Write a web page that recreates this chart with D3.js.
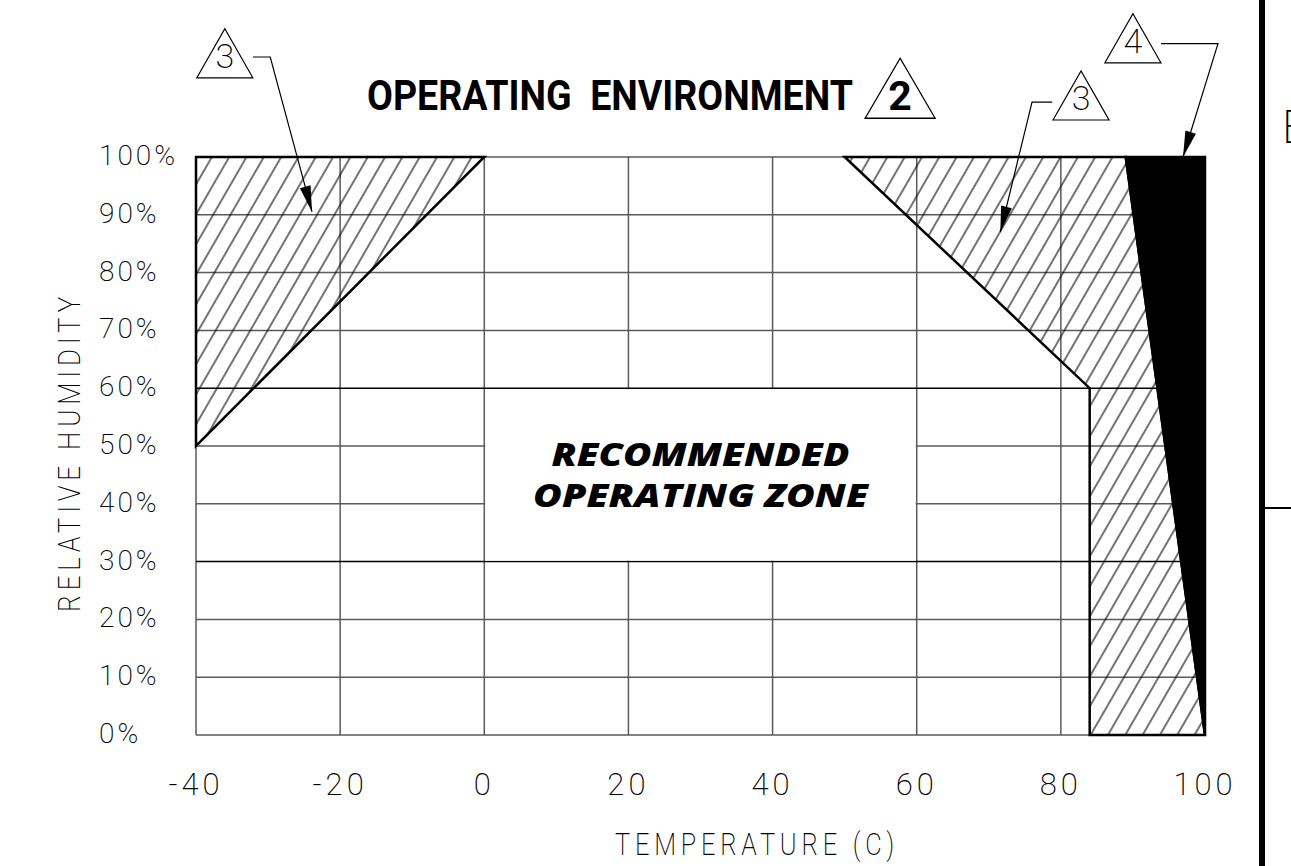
<!DOCTYPE html>
<html>
<head>
<meta charset="utf-8">
<script src="https://cdn.jsdelivr.net/npm/d3@7"></script>
<style>
body { margin: 0; background: #fff; }
svg { display: block; }
.cad { font-family: Roboto, "DejaVu Sans", sans-serif; font-weight: 200; fill: #000; }
</style>
</head>
<body>
<svg id="chart" width="1291" height="866"></svg>
<script>
// operating environment chart, temp (C) vs relative humidity (%)

var tempTicks = [-40, -20, 0, 20, 40, 60, 80, 100];
var tempLabels = ["-40", "-20", "0", "20", "40", "60", "80", "100"];
var humTicks = [0, 10, 20, 30, 40, 50, 60, 70, 80, 90, 100];
var humLabels = ["0%", "10%", "20%", "30%", "40%", "50%", "60%", "70%", "80%", "90%", "100%"];

// zones as [temp, RH] corners
var coldZone = [[-40, 100], [0, 100], [-40, 50]];
var hotZone = [[50, 100], [89, 100], [100, 0], [84, 0], [84, 60]];
var limitZone = [[89, 100], [100, 100], [100, 0]];
var recBox = [[0, 60], [60, 30]];
var recLabel = ["RECOMMENDED", "OPERATING ZONE"];

// callout flags: triangle base centre, leader path, arrow tip (all in data units)
var calloutLabels = ["3", "3", "4"];
var calloutBase = [[-36.0, 113.7], [82.8, 106.4], [90.0, 116.3]];
var calloutLeader = [
	[[-32.1, 117.3], [-29.7, 117.3], [-23.9, 90.5]],
	[[78.8, 109.5], [76.0, 109.5], [71.6, 87.0]],
	[[93.9, 119.6], [101.8, 119.6], [96.95, 100]]
];
var titleFlag = { label: "2", base: [57.7, 106.7] };

var svg = d3.select("#chart");

var x = d3.scaleLinear() // temperature
	.domain([-40, 100])
	.range([196, 1205]);
var y = d3.scaleLinear() // humidity
	.domain([0, 100])
	.range([735, 157]);

var line = d3.line()
	.x(function(d) { return x(d[0]); })
	.y(function(d) { return y(d[1]); });

// squeeze a text sideways so it spans w pixels
var fit = function(sel, px, py, w, rot) {
	var n = sel.node().getComputedTextLength();
	sel.attr("transform", "translate(" + px + "," + py + ")" +
		(rot ? " rotate(" + rot + ")" : "") + " scale(" + (w / n) + ",1)");
};

var defs = svg.append("defs");
defs.append("pattern")
	.attr("id", "hatch")
	.attr("patternUnits", "userSpaceOnUse")
	.attr("width", 15)
	.attr("height", 15)
	.attr("patternTransform", "rotate(30)")
	.append("line")
	.attr("x1", 7).attr("x2", 7)
	.attr("y1", -1).attr("y2", 16)
	.attr("stroke", "#000")
	.attr("stroke-width", 1.1);

// grid
var grid = svg.append("g");
grid.selectAll("line.v")
	.data(tempTicks)
	.enter().append("line")
	.attr("class", "v")
	.attr("x1", function(d) { return x(d); })
	.attr("x2", function(d) { return x(d); })
	.attr("y1", y(0))
	.attr("y2", y(100))
	.attr("stroke", "#5a5a5a")
	.attr("stroke-width", 1.5);
grid.selectAll("line.h")
	.data(humTicks)
	.enter().append("line")
	.attr("class", "h")
	.attr("x1", x(-40))
	.attr("x2", x(100))
	.attr("y1", function(d) { return y(d); })
	.attr("y2", function(d) { return y(d); })
	.attr("stroke", function(d) { return (d == recBox[0][1] || d == recBox[1][1]) ? "#000" : "#5a5a5a"; })
	.attr("stroke-width", 1.5);

// blank out the grid behind the zone label
svg.append("rect")
	.attr("x", x(recBox[0][0]) + 1)
	.attr("y", y(recBox[0][1]) + 1)
	.attr("width", x(recBox[1][0]) - x(recBox[0][0]) - 2)
	.attr("height", y(recBox[1][1]) - y(recBox[0][1]) - 2)
	.attr("fill", "#fff");

// zones
[coldZone, hotZone].forEach(function(z) {
	svg.append("path")
		.attr("d", line(z) + "Z")
		.attr("fill", "url(#hatch)")
		.attr("stroke", "#000")
		.attr("stroke-width", 2.5);
});
svg.append("path")
	.attr("d", line(limitZone) + "Z")
	.attr("fill", "#000")
	.attr("stroke", "#000")
	.attr("stroke-width", 2.5);

// zone label
svg.selectAll("text.rec")
	.data(recLabel)
	.enter().append("text")
	.attr("class", "rec")
	.attr("text-anchor", "middle")
	.attr("font-family", "'Open Sans', sans-serif")
	.attr("font-weight", 800)
	.attr("font-style", "italic")
	.attr("font-size", 31)
	.text(function(d) { return d; })
	.each(function(d, i) {
		fit(d3.select(this), x(30), y(46.5) + i * 41, i ? 335 : 298);
	});

// tick labels
svg.selectAll("text.ylab")
	.data(humLabels)
	.enter().append("text")
	.attr("class", "ylab cad")
	.attr("x", 99)
	.attr("y", function(d, i) { return y(humTicks[i]) + 8; })
	.attr("font-size", 28)
	.attr("letter-spacing", 3)
	.text(function(d) { return d; });

svg.selectAll("text.xlab")
	.data(tempLabels)
	.enter().append("text")
	.attr("class", "xlab cad")
	.attr("x", function(d, i) { return x(tempTicks[i]); })
	.attr("y", 795)
	.attr("text-anchor", "middle")
	.attr("font-size", 31)
	.attr("letter-spacing", 4)
	.text(function(d) { return d; });

// axis titles
fit(svg.append("text")
	.attr("class", "cad")
	.attr("font-size", 32)
	.attr("letter-spacing", 6)
	.text("TEMPERATURE (C)"), 615, 855, 284);

fit(svg.append("text")
	.attr("class", "cad")
	.attr("text-anchor", "middle")
	.attr("font-size", 32)
	.attr("letter-spacing", 6)
	.text("RELATIVE HUMIDITY"), 80, 452, 320, -90);

// title
fit(svg.append("text")
	.attr("font-family", "Roboto, sans-serif")
	.attr("font-weight", 700)
	.attr("font-size", 42)
	.text("OPERATING\u00a0\u00a0ENVIRONMENT"), 367, 110, 486);

// flag triangles
var flag = function(cx, by, w, h) {
	return "M" + (cx - w / 2) + "," + by + "L" + cx + "," + (by - h) + "L" + (cx + w / 2) + "," + by + "Z";
};

var tf = svg.append("g");
tf.append("path")
	.attr("d", flag(x(titleFlag.base[0]), y(titleFlag.base[1]), 70, 60))
	.attr("fill", "none")
	.attr("stroke", "#000")
	.attr("stroke-width", 1.3);
tf.append("text")
	.attr("x", x(titleFlag.base[0]))
	.attr("y", y(titleFlag.base[1]) - 8)
	.attr("text-anchor", "middle")
	.attr("font-family", "Roboto, sans-serif")
	.attr("font-weight", 700)
	.attr("font-size", 41)
	.text(titleFlag.label);

calloutLabels.forEach(function(lab, i) {
	var b = calloutBase[i];
	var g = svg.append("g");
	g.append("path")
		.attr("d", flag(x(b[0]), y(b[1]), 56, 49))
		.attr("fill", "none")
		.attr("stroke", "#000")
		.attr("stroke-width", 1.2);
	g.append("text")
		.attr("class", "cad")
		.attr("x", x(b[0]))
		.attr("y", y(b[1]) - 10)
		.attr("text-anchor", "middle")
		.attr("font-size", 34)
		.text(lab);

	var pts = calloutLeader[i];
	g.append("path")
		.attr("d", line(pts))
		.attr("fill", "none")
		.attr("stroke", "#000")
		.attr("stroke-width", 1.2);

	// arrow head at the tip
	var a = pts[pts.length - 2], t = pts[pts.length - 1];
	var ax = x(a[0]), ay = y(a[1]), tx = x(t[0]), ty = y(t[1]);
	var len = Math.sqrt((tx - ax) * (tx - ax) + (ty - ay) * (ty - ay));
	var ux = (tx - ax) / len, uy = (ty - ay) / len;
	var bx = tx - ux * 26, by = ty - uy * 26;
	g.append("path")
		.attr("d", "M" + tx + "," + ty +
			"L" + (bx - uy * 5.5) + "," + (by + ux * 5.5) +
			"L" + (bx + uy * 5.5) + "," + (by - ux * 5.5) + "Z")
		.attr("fill", "#000");
});

// sheet border on the right
svg.append("line")
	.attr("x1", 1262).attr("x2", 1262)
	.attr("y1", 0).attr("y2", 866)
	.attr("stroke", "#000")
	.attr("stroke-width", 6);
svg.append("line")
	.attr("x1", 1262).attr("x2", 1291)
	.attr("y1", 508).attr("y2", 508)
	.attr("stroke", "#000")
	.attr("stroke-width", 2);
svg.append("text")
	.attr("class", "cad")
	.attr("x", 1282)
	.attr("y", 143)
	.attr("font-size", 46)
	.attr("fill", "#333")
	.text("E");
</script>
</body>
</html>
